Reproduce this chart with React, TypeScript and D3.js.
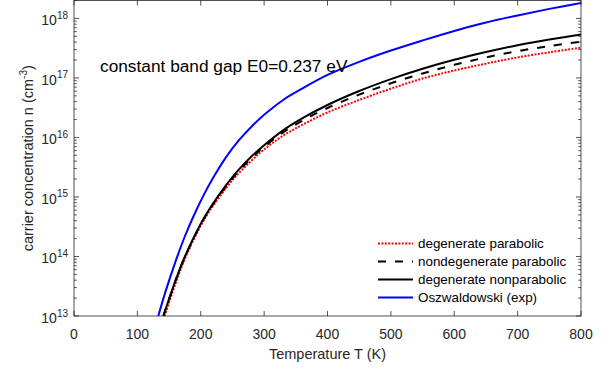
import React from "react";
import * as d3 from "d3";

// Temperature grids (K) and log10 of carrier concentration (cm^-3)
const T_BLUE = [133, 145, 160, 175, 190, 205, 220, 240, 260, 280, 300, 330, 360, 400, 450, 500, 550, 600, 650, 700, 750, 800];
const LOG_OSZ = [13.0, 13.43, 13.91, 14.34, 14.71, 15.04, 15.33, 15.67, 15.95, 16.18, 16.38, 16.63, 16.82, 17.05, 17.27, 17.46, 17.63, 17.79, 17.93, 18.05, 18.16, 18.26];

const T_BLACK = [141, 160, 175, 200, 215, 240, 260, 280, 300, 330, 360, 400, 450, 500, 550, 600, 650, 700, 750, 800];
const LOG_DEG_NONPARA = [13.0, 13.59, 14.0, 14.55, 14.82, 15.2, 15.46, 15.68, 15.87, 16.12, 16.32, 16.545, 16.78, 16.98, 17.155, 17.305, 17.435, 17.55, 17.645, 17.73];
const LOG_NONDEG_PARA = [13.0, 13.59, 13.995, 14.54, 14.805, 15.18, 15.435, 15.65, 15.84, 16.085, 16.28, 16.495, 16.72, 16.91, 17.075, 17.22, 17.345, 17.45, 17.535, 17.61];

const T_RED = [143, 160, 175, 200, 215, 240, 260, 280, 300, 330, 360, 400, 450, 500, 550, 600, 650, 700, 750, 800];
const LOG_DEG_PARA = [13.0, 13.54, 13.96, 14.52, 14.78, 15.15, 15.4, 15.61, 15.8, 16.03, 16.21, 16.42, 16.63, 16.82, 16.99, 17.125, 17.24, 17.345, 17.43, 17.51];

const X_TICKS = [0, 100, 200, 300, 400, 500, 600, 700, 800];
const Y_DECADES = [13, 14, 15, 16, 17, 18];

const LEGEND = ["degenerate parabolic", "nondegenerate parabolic", "degenerate nonparabolic", "Oszwaldowski (exp)"];

const W = 610;
const H = 371;
const L = 74, R = 581, TOP = 0.5, BOT = 316;
const AX = "#262626";
const FONT = "'Liberation Sans', Arial, Helvetica, sans-serif";

export default function App() {
  const x = d3.scaleLinear().domain([0, 800]).range([L, R]);
  const y = d3.scaleLog().domain([1e13, 2e18]).range([BOT, TOP]);

  const mk = (ts: number[], ls: number[]) =>
    d3
      .line<number>()
      .x((_, i) => x(ts[i]))
      .y((v) => y(Math.pow(10, v)))
      .curve(d3.curveCatmullRom.alpha(0.5))(ls) || "";

  const series = [
    { d: mk(T_RED, LOG_DEG_PARA), color: "#ff0000", dash: "2 1.4", w: 2 },
    { d: mk(T_BLACK, LOG_NONDEG_PARA), color: "#000000", dash: "8 9", w: 2 },
    { d: mk(T_BLACK, LOG_DEG_NONPARA), color: "#000000", dash: "", w: 2 },
    { d: mk(T_BLUE, LOG_OSZ), color: "#0000ff", dash: "", w: 2 },
  ];

  const minor: number[] = [];
  Y_DECADES.forEach((e) => {
    for (let k = 2; k <= 9; k++) {
      const v = k * Math.pow(10, e);
      if (v <= 2e18) minor.push(v);
    }
  });

  return (
    <svg width={W} height={H} style={{ position: "absolute", left: 0, top: 0, background: "#fff" }} fontFamily={FONT}>
      <rect x={0} y={0} width={W} height={H} fill="#fff" />
      <defs>
        <clipPath id="plotclip">
          <rect x={L} y={TOP} width={R - L} height={BOT - TOP} />
        </clipPath>
      </defs>
      <g clipPath="url(#plotclip)">
        {series.map((s, i) => (
          <path key={i} d={s.d} fill="none" stroke={s.color} strokeWidth={s.w} strokeDasharray={s.dash || undefined} />
        ))}
      </g>
      {/* axes box */}
      <rect x={L} y={TOP} width={R - L} height={BOT - TOP} fill="none" stroke={AX} strokeWidth={0.8} />
      {/* x ticks */}
      {X_TICKS.map((t) => (
        <g key={"xt" + t}>
          <line x1={x(t)} x2={x(t)} y1={BOT} y2={BOT - 5} stroke={AX} strokeWidth={0.8} />
          <line x1={x(t)} x2={x(t)} y1={TOP} y2={TOP + 5} stroke={AX} strokeWidth={0.8} />
          <text x={x(t)} y={338.5} fontSize={14} textAnchor="middle" fill={AX}>
            {t}
          </text>
        </g>
      ))}
      {/* y ticks */}
      {Y_DECADES.map((e) => {
        const yy = y(Math.pow(10, e));
        return (
          <g key={"yt" + e}>
            <line x1={L} x2={L + 5} y1={yy} y2={yy} stroke={AX} strokeWidth={0.8} />
            <line x1={R} x2={R - 5} y1={yy} y2={yy} stroke={AX} strokeWidth={0.8} />
            <text x={68} y={yy + 7} fontSize={14} textAnchor="end" fill={AX}>
              <tspan>10</tspan>
              <tspan fontSize={10} dy={-6.5}>
                {e}
              </tspan>
            </text>
          </g>
        );
      })}
      {minor.map((v, i) => {
        const yy = y(v);
        return (
          <g key={"ym" + i}>
            <line x1={L} x2={L + 2.8} y1={yy} y2={yy} stroke={AX} strokeWidth={0.8} />
            <line x1={R} x2={R - 2.8} y1={yy} y2={yy} stroke={AX} strokeWidth={0.8} />
          </g>
        );
      })}
      {/* axis labels */}
      <text x={(L + R) / 2} y={359} fontSize={14.5} textAnchor="middle" fill={AX}>
        Temperature T (K)
      </text>
      <text transform={`translate(32.5, ${(TOP + BOT) / 2}) rotate(-90)`} fontSize={14.5} textAnchor="middle" fill={AX}>
        <tspan>carrier concentration n (cm</tspan>
        <tspan fontSize={10} dy={-6}>-3</tspan>
        <tspan dy={6}>)</tspan>
      </text>
      {/* annotation */}
      <text x={100} y={71.5} fontSize={17.3} fill="#000">
        constant band gap E0=0.237 eV
      </text>
      {/* legend */}
      {series.map((s, i) => {
        const yy = 243.5 + i * 18;
        return (
          <g key={"lg" + i}>
            <line x1={378} x2={413} y1={yy} y2={yy} stroke={s.color} strokeWidth={s.w} strokeDasharray={s.dash || undefined} />
            <text x={418} y={yy + 4.8} fontSize={13.4} fill="#000">
              {LEGEND[i]}
            </text>
          </g>
        );
      })}
    </svg>
  );
}
